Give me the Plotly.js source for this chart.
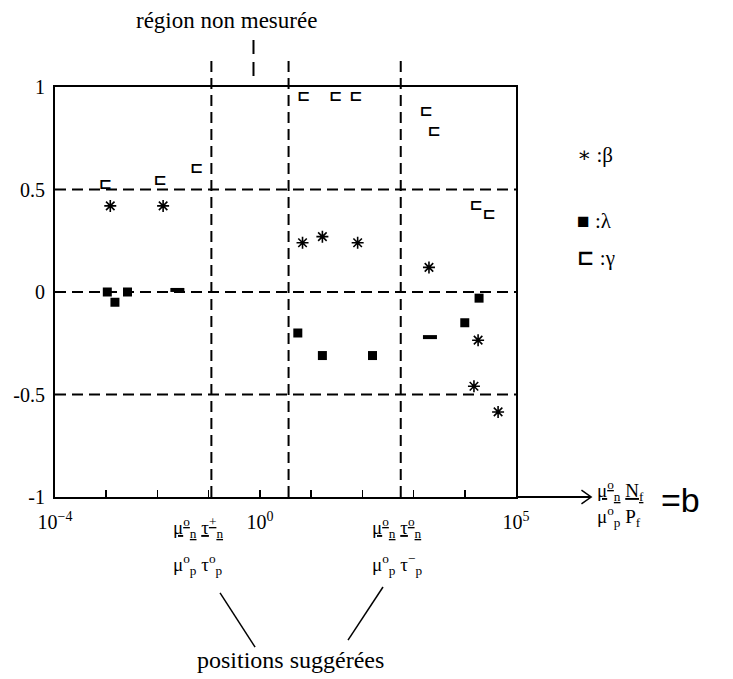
<!DOCTYPE html>
<html>
<head>
<meta charset="utf-8">
<script src="https://cdn.plot.ly/plotly-3.0.1.min.js"></script>
<style>html,body{margin:0;padding:0;background:#fff;}#chart{width:733px;height:679px;}</style>
</head>
<body>
<div id="chart"></div>
<script>
// ---- data (x = b, y = exponent value) ----
const betaX   = [0.0012, 0.0129, 6.8, 16.6, 81, 2000, 18200, 15100, 44700];
const betaY   = [0.42, 0.42, 0.24, 0.27, 0.24, 0.12, -0.235, -0.46, -0.585];
const lambdaX = [0.00105, 0.00148, 0.0026, 5.5, 16.6, 158, 10000, 19000];
const lambdaY = [0.0, -0.05, 0.0, -0.2, -0.31, -0.31, -0.15, -0.03];
const lambdaDashX = [0.0245, 2090];
const lambdaDashY = [0.01, -0.22];
const gammaX  = [0.00096, 0.0112, 0.0575, 7.1, 30, 74, 1740, 2500, 16600, 29500];
const gammaY  = [0.52, 0.54, 0.60, 0.95, 0.95, 0.95, 0.88, 0.78, 0.42, 0.375];
const boundaryX = [0.113, 3.63, 562];      // vertical dashed lines
const unmeasuredX = 0.75;                   // "région non mesurée" marker
const hLevels = [0.5, 0, -0.5];             // horizontal dashed lines
const xTickVals = [1e-4, 1e-3, 1e-2, 1e-1, 1, 10, 100, 1000, 1e4, 1e5];
const xTickText = ['10<sup>−4</sup>', '', '', '', '10<sup>0</sup>', '', '', '', '', '10<sup>5</sup>'];
const yTickVals = [-1, -0.5, 0, 0.5, 1];
const yTickText = ['-1', '-0.5', '0', '0.5', '1'];

const SERIF = 'Times New Roman, Liberation Serif, DejaVu Serif';
const traces = [
  {x: gammaX, y: gammaY, mode: 'text', text: gammaX.map(() => '<b>⊏</b>'),
   textfont: {family: 'DejaVu Sans', size: 16, color: '#000'}, textposition: 'middle center',
   showlegend: false, cliponaxis: false, hoverinfo: 'skip'},
  {x: betaX, y: betaY, mode: 'markers', type: 'scatter',
   marker: {symbol: 'asterisk-open', size: 10, color: '#000', line: {color: '#000', width: 1.6}},
   showlegend: false, cliponaxis: false},
  {x: lambdaX, y: lambdaY, mode: 'markers', type: 'scatter',
   marker: {symbol: 'square', size: 9, color: '#000', line: {width: 0}},
   showlegend: false, cliponaxis: false},
  {x: lambdaDashX, y: lambdaDashY, mode: 'markers', type: 'scatter',
   marker: {symbol: 'line-ew-open', size: 10, color: '#000', line: {color: '#000', width: 4}},
   showlegend: false, cliponaxis: false}
];

const dash = '11px,6px';
const shapes = [];
hLevels.forEach(v => shapes.push({type: 'line', xref: 'paper', yref: 'y', x0: 0, x1: 1, y0: v, y1: v,
  line: {color: '#000', width: 2, dash: dash}}));
const tops = [1.066, 1.073, 1.073];
boundaryX.forEach((v, i) => shapes.push({type: 'line', xref: 'x', yref: 'paper', x0: v, x1: v, y0: 0, y1: tops[i],
  line: {color: '#000', width: 2, dash: dash}}));
shapes.push({type: 'line', xref: 'x', yref: 'paper', x0: unmeasuredX, x1: unmeasuredX, y0: 1.027, y1: 1.115,
  line: {color: '#000', width: 2, dash: '14px,8px'}});
// x-axis extension with arrow
shapes.push({type: 'line', xref: 'paper', yref: 'paper', x0: 1, x1: 1.162, y0: 0, y1: 0, line: {color: '#000', width: 2}});
shapes.push({type: 'path', xref: 'paper', yref: 'paper', path: 'M 1.142 0.017 L 1.163 0 L 1.142 -0.017', line: {color: '#000', width: 1.5}});
// pointer lines to "positions suggérées"
shapes.push({type: 'line', xref: 'paper', yref: 'paper', x0: 0.358, y0: -0.234, x1: 0.434, y1: -0.366, line: {color: '#000', width: 1.5}});
shapes.push({type: 'line', xref: 'paper', yref: 'paper', x0: 0.7115, y0: -0.2195, x1: 0.6356, y1: -0.349, line: {color: '#000', width: 1.5}});

const ann = (x, y, text, size, extra) => Object.assign({xref: 'paper', yref: 'paper', x: x, y: y, text: text,
  showarrow: false, font: {family: SERIF, size: size, color: '#000'}, xanchor: 'center', yanchor: 'middle'}, extra || {});

const annotations = [
  ann(0.371, 1.163, 'région non mesurée', 23),
  ann(0.51, -0.398, 'positions suggérées', 24),
  ann(0.31, -0.075, '<u>μ<sup>o</sup><sub>n</sub></u> <u>τ<sup>+</sup><sub>n</sub></u>', 19),
  ann(0.31, -0.165, 'μ<sup>o</sup><sub>p</sub> τ<sup>o</sup><sub>p</sub>', 19),
  ann(0.742, -0.075, '<u>μ<sup>o</sup><sub>n</sub></u> <u>τ<sup>o</sup><sub>n</sub></u>', 19),
  ann(0.742, -0.165, 'μ<sup>o</sup><sub>p</sub> τ<sup>−</sup><sub>p</sub>', 19),
  ann(1.172, 0.015, '<u>μ<sup>o</sup><sub>n</sub></u> <u>N<sub>f</sub></u>', 19, {xanchor: 'left'}),
  ann(1.172, -0.048, 'μ<sup>o</sup><sub>p</sub> P<sub>f</sub>', 19, {xanchor: 'left'}),
  ann(1.31, -0.008, '=b', 34, {xanchor: 'left', font: {family: 'Liberation Sans, Arial', size: 34, color: '#000'}}),
  ann(1.128, 0.834, '∗ :β', 21, {xanchor: 'left'}),
  ann(1.128, 0.673, '■ :λ', 21, {xanchor: 'left'}),
  ann(1.128, 0.583, '<b>⊏</b> :γ', 21, {xanchor: 'left'})
];

const layout = {
  width: 733, height: 679,
  margin: {l: 55, r: 217, t: 87, b: 182},
  paper_bgcolor: '#fff', plot_bgcolor: '#fff',
  showlegend: false,
  font: {family: SERIF, size: 18, color: '#000'},
  xaxis: {type: 'log', range: [-4, 5], showgrid: false, zeroline: false,
    showline: true, linecolor: '#000', linewidth: 2, mirror: true,
    ticks: 'inside', ticklen: 7, tickwidth: 1.5, tickcolor: '#000',
    tickmode: 'array', tickvals: xTickVals.concat([boundaryX[1], boundaryX[2]]),
    ticktext: xTickText.concat(['', '']),
    tickfont: {family: SERIF, size: 20, color: '#000'}, ticklabelstandoff: 6},
  yaxis: {range: [-1, 1], showgrid: false, zeroline: false,
    showline: true, linecolor: '#000', linewidth: 2, mirror: true,
    ticks: 'inside', ticklen: 4, tickwidth: 1.5, tickcolor: '#000',
    tickmode: 'array', tickvals: yTickVals, ticktext: yTickText,
    tickfont: {family: SERIF, size: 20, color: '#000'}, ticklabelstandoff: 4},
  shapes: shapes,
  annotations: annotations
};

Plotly.newPlot('chart', traces, layout, {staticPlot: true, displayModeBar: false});
</script>
</body>
</html>
